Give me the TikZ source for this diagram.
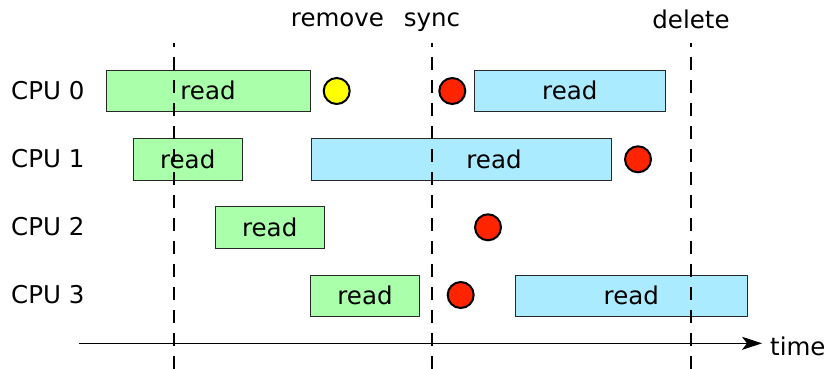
\documentclass[tikz,border=0pt]{standalone}
\usepackage{fontspec}
\setmainfont{DejaVu Sans}
\usetikzlibrary{arrows.meta}
\definecolor{rgreen}{RGB}{170,255,170}
\definecolor{rblue}{RGB}{170,235,255}
\definecolor{rred}{RGB}{255,36,0}
\definecolor{ryellow}{RGB}{255,255,0}
\definecolor{rborder}{RGB}{40,40,40}
\tikzset{
  box/.style={draw=rborder, line width=1pt, inner sep=0pt, font=\fontsize{24.5}{28}\selectfont},
  oldread/.style={box, fill=rgreen},
  newread/.style={box, fill=rblue},
  dot/.style={circle, draw=black, line width=2pt, inner sep=0pt, minimum size=26pt},
  lbl/.style={inner sep=0pt, font=\fontsize{24.5}{28}\selectfont},
  phase/.style={line width=2.6pt, dash pattern=on 13pt off 10pt, dash phase=9pt},
}
\begin{document}
\begin{tikzpicture}[x=1pt,y=-1pt]
\useasboundingbox (0,0) rectangle (829,369);
% CPU labels
\node[lbl, anchor=base west] (c0) at (11,99) {CPU 0};
\node[lbl, anchor=base west] (c1) at (11,167) {CPU 1};
\node[lbl, anchor=base west] (c2) at (11,235) {CPU 2};
\node[lbl, anchor=base west] (c3) at (11,303) {CPU 3};
% read boxes
\node[oldread, minimum width=204pt, minimum height=41pt] (r0a) at (208,90.7) {read};
\node[newread, minimum width=191pt, minimum height=41pt] (r0b) at (569.8,90.7) {read};
\node[oldread, minimum width=109pt, minimum height=42pt] (r1a) at (187.7,159.2) {read};
\node[newread, minimum width=300pt, minimum height=42pt] (r1b) at (461,159.2) {};
\node[lbl] (r1bt) at ([xshift=33pt]r1b.center) {read};
\node[oldread, minimum width=109pt, minimum height=41.6pt] (r2a) at (269.7,227.5) {read};
\node[oldread, minimum width=109.4pt, minimum height=41pt] (r3a) at (365,295.5) {read};
\node[newread, minimum width=232pt, minimum height=41pt] (r3b) at (631.3,295.5) {read};
% dots
\node[dot, fill=ryellow] (y0) at (336.7,91) {};
\node[dot, fill=rred] (d0) at (452.3,91) {};
\node[dot, fill=rred] (d1) at (638,159.3) {};
\node[dot, fill=rred] (d2) at (488,227.3) {};
\node[dot, fill=rred] (d3) at (460.7,295) {};
% phase labels
\node[lbl, anchor=base] (remove) at (337.5,27) {remove};
\node[lbl, anchor=base] (sync) at (432,27) {sync};
\node[lbl, anchor=base] (delete) at (691,28.5) {delete};
% time axis
\coordinate (t0) at (79,343.3);
\node[lbl, anchor=base west] (time) at (770,355) {time};
\draw[line width=1pt, -{Stealth[length=20pt,width=13pt,inset=5pt]}] (t0) -- (762,343.3);
% dashed phase lines
\coordinate (a1) at (174,43); \coordinate (a2) at (174,369);
\coordinate (b1) at (432,43); \coordinate (b2) at (432,369);
\coordinate (e1) at (691,43); \coordinate (e2) at (691,369);
\draw[phase] (a1) -- (a2);
\draw[phase] (b1) -- (b2);
\draw[phase] (e1) -- (e2);
\end{tikzpicture}
\end{document}
